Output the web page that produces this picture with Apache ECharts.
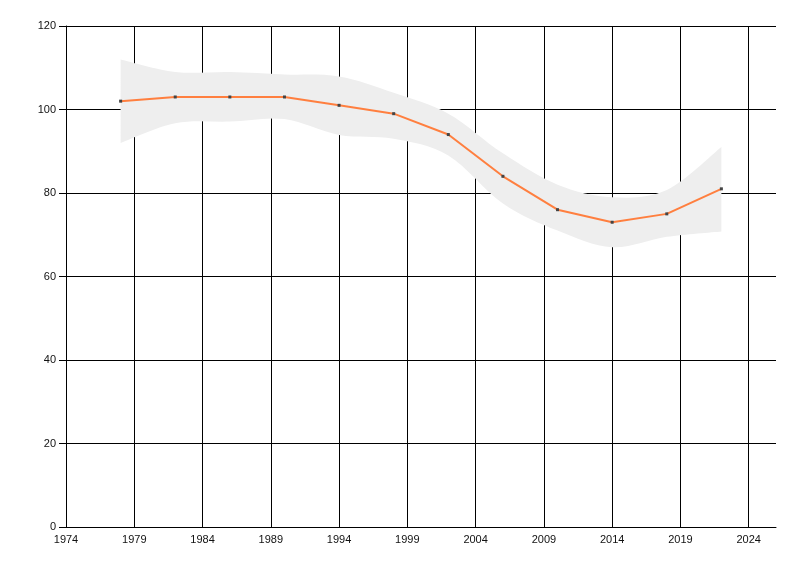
<!DOCTYPE html>
<html>
<head>
<meta charset="utf-8">
<script src="https://cdn.jsdelivr.net/npm/echarts@6/dist/echarts.min.js"></script>
<style>html,body{margin:0;padding:0;background:#fff}#c{width:800px;height:576px}</style>
</head>
<body>
<div id="c"></div>
<script>
const years = [1978, 1982, 1986, 1990, 1994, 1998, 2002, 2006, 2010, 2014, 2018, 2022];
const values = [102, 103, 103, 103, 101, 99, 94, 84, 76, 73, 75, 81];
const bandUpper = [112, 109, 109, 108.4, 107.9, 104, 99, 89.5, 82, 79, 80.7, 91];
const bandLower = [92, 96.7, 97.1, 97.7, 93.9, 93, 89, 77.5, 71, 67, 69.5, 70.8];

const lineData = years.map((y, i) => [y, values[i]]);
const bandData = years.map((y, i) => [y, bandLower[i], bandUpper[i]]);

function catmull(pts, t) {
  let d = '';
  for (let i = 0; i < pts.length - 1; i++) {
    const p0 = pts[Math.max(i - 1, 0)], p1 = pts[i], p2 = pts[i + 1], p3 = pts[Math.min(i + 2, pts.length - 1)];
    const c1x = p1[0] + (p2[0] - p0[0]) * t / 6, c1y = p1[1] + (p2[1] - p0[1]) * t / 6;
    const c2x = p2[0] - (p3[0] - p1[0]) * t / 6, c2y = p2[1] - (p3[1] - p1[1]) * t / 6;
    d += ' C ' + c1x + ' ' + c1y + ' ' + c2x + ' ' + c2y + ' ' + p2[0] + ' ' + p2[1];
  }
  return d;
}

const chart = echarts.init(document.getElementById('c'));
const font = {fontFamily: 'Liberation Sans, Arial, sans-serif', fontSize: 11, color: '#111'};
chart.setOption({
  animation: false,
  backgroundColor: '#fff',
  grid: {left: 66, right: 24, top: 26, bottom: 49},
  xAxis: {
    type: 'value', min: 1974, max: 2026, interval: 5,
    axisLine: {show: true, onZero: false, lineStyle: {color: '#000', width: 1}},
    axisTick: {show: false},
    axisLabel: Object.assign({margin: 7, showMaxLabel: false,
      formatter: v => (v === 2026 ? '' : String(v))}, font),
    splitLine: {show: true, showMaxLine: false, lineStyle: {color: '#000', width: 1}}
  },
  yAxis: {
    type: 'value', min: 0, max: 120, interval: 20,
    axisLine: {show: true, lineStyle: {color: '#000', width: 1}},
    axisTick: {show: true, length: 7, lineStyle: {color: '#000'}},
    axisLabel: Object.assign({margin: 10}, font),
    splitLine: {show: true, lineStyle: {color: '#000', width: 1}}
  },
  series: [
    {
      type: 'custom', data: bandData, silent: true, z: 1,
      encode: {x: 0, y: [1, 2]},
      renderItem: function (params, api) {
        if (params.dataIndex !== 0) return null;
        const up = bandData.map(d => api.coord([d[0], d[2]]));
        const lo = bandData.map(d => api.coord([d[0], d[1]])).reverse();
        let d = 'M ' + up[0][0] + ' ' + up[0][1] + catmull(up, 1);
        d += ' L ' + lo[0][0] + ' ' + lo[0][1] + catmull(lo, 1) + ' Z';
        return {type: 'path', shape: {pathData: d}, style: {fill: '#eeeeee', stroke: null}};
      }
    },
    {
      type: 'line', data: lineData, z: 3,
      symbol: 'rect', symbolSize: 3, showAllSymbol: true,
      itemStyle: {color: '#444'},
      lineStyle: {color: '#ff7f3f', width: 2}
    }
  ]
});
</script>
</body>
</html>
